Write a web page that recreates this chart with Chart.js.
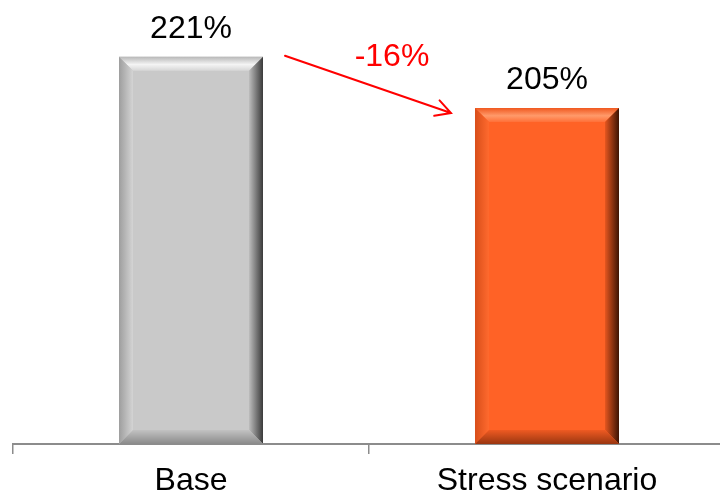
<!DOCTYPE html>
<html>
<head>
<meta charset="utf-8">
<script src="https://cdn.jsdelivr.net/npm/chart.js@4.4.1/dist/chart.umd.min.js"></script>
<style>
  html, body { margin: 0; padding: 0; background: #ffffff; }
  #wrap { width: 720px; height: 494px; position: relative; overflow: hidden; }
</style>
</head>
<body>
<div id="wrap"><canvas id="c" width="725" height="494"></canvas></div>
<script>
// Ratio by scenario (%)
const categories = ['Base', 'Stress scenario'];
const ratios = [221, 205];
const barColors = ['#C9C9C9', '#FF6226'];

// Bevel shading for each bar: [top highlight, left edge, right edge, bottom edge]
const bevelShades = [
  { top: ['#b8b8b8', '#f4f4f4', '#d6d6d6'], left: ['#9e9e9e', '#d4d4d4'], right: ['#3a3a3a', '#bdbdbd'], bottom: ['#c2c2c2', '#8a8a8a'] },
  { top: ['#f0581f', '#ff9a6a', '#ff7038'], left: ['#d84e1a', '#ff6a2e'], right: ['#3d1404', '#e6561f'], bottom: ['#ee5a22', '#9a3610'] }
];

const FONT = 'Arial, "Liberation Sans", sans-serif';
const FONT_SIZE = 32;

const bevelPlugin = {
  id: 'bevel',
  afterDatasetsDraw(chart) {
    const ctx = chart.ctx;
    const meta = chart.getDatasetMeta(0);
    meta.data.forEach((bar, i) => {
      const p = bar.getProps(['x', 'y', 'base', 'width'], true);
      const L = p.x - p.width / 2, R = p.x + p.width / 2, T = p.y;
      const B = Math.min(p.base, chart.chartArea.bottom);
      const b = 14;
      const s = bevelShades[i];
      ctx.save();
      // top
      let g = ctx.createLinearGradient(0, T, 0, T + b);
      g.addColorStop(0, s.top[0]); g.addColorStop(0.55, s.top[1]); g.addColorStop(1, s.top[2]);
      ctx.fillStyle = g;
      ctx.beginPath(); ctx.moveTo(L, T); ctx.lineTo(R, T); ctx.lineTo(R - b, T + b); ctx.lineTo(L + b, T + b); ctx.closePath(); ctx.fill();
      // left
      g = ctx.createLinearGradient(L, 0, L + b, 0);
      g.addColorStop(0, s.left[0]); g.addColorStop(1, s.left[1]);
      ctx.fillStyle = g;
      ctx.beginPath(); ctx.moveTo(L, T); ctx.lineTo(L + b, T + b); ctx.lineTo(L + b, B - b); ctx.lineTo(L, B); ctx.closePath(); ctx.fill();
      // right
      g = ctx.createLinearGradient(R, 0, R - b, 0);
      g.addColorStop(0, s.right[0]); g.addColorStop(1, s.right[1]);
      ctx.fillStyle = g;
      ctx.beginPath(); ctx.moveTo(R, T); ctx.lineTo(R - b, T + b); ctx.lineTo(R - b, B - b); ctx.lineTo(R, B); ctx.closePath(); ctx.fill();
      // bottom
      g = ctx.createLinearGradient(0, B - b, 0, B);
      g.addColorStop(0, s.bottom[0]); g.addColorStop(1, s.bottom[1]);
      ctx.fillStyle = g;
      ctx.beginPath(); ctx.moveTo(L, B); ctx.lineTo(R, B); ctx.lineTo(R - b, B - b); ctx.lineTo(L + b, B - b); ctx.closePath(); ctx.fill();
      ctx.restore();

      // value label above the bar
      ctx.save();
      ctx.fillStyle = '#000000';
      ctx.font = FONT_SIZE + 'px ' + FONT;
      ctx.textAlign = 'center';
      ctx.textBaseline = 'middle';
      ctx.fillText(ratios[i] + '%', p.x, T - 28);
      ctx.restore();
    });
  }
};

const arrowPlugin = {
  id: 'changeArrow',
  afterDatasetsDraw(chart) {
    const ctx = chart.ctx;
    const meta = chart.getDatasetMeta(0);
    const a = meta.data[0].getProps(['x', 'y', 'width'], true);
    const c = meta.data[1].getProps(['x', 'y', 'width'], true);
    const x1 = a.x + a.width / 2 + 22, y1 = a.y - 1;
    const x2 = c.x - c.width / 2 - 24, y2 = c.y + 5;
    const ang = Math.atan2(y2 - y1, x2 - x1);
    const head = 17, spread = 0.5;
    ctx.save();
    ctx.strokeStyle = '#FF0000';
    ctx.lineWidth = 2;
    ctx.lineCap = 'round';
    ctx.beginPath();
    ctx.moveTo(x1, y1); ctx.lineTo(x2, y2);
    ctx.moveTo(x2 - head * Math.cos(ang - spread), y2 - head * Math.sin(ang - spread));
    ctx.lineTo(x2, y2);
    ctx.lineTo(x2 - head * Math.cos(ang + spread), y2 - head * Math.sin(ang + spread));
    ctx.stroke();
    const change = ratios[1] - ratios[0];
    ctx.fillStyle = '#FF0000';
    ctx.font = FONT_SIZE + 'px ' + FONT;
    ctx.textAlign = 'center';
    ctx.textBaseline = 'middle';
    ctx.fillText((change > 0 ? '+' : '') + change + '%', (x1 + x2) / 2 + 24, (y1 + y2) / 2 - 27);
    ctx.restore();
  }
};

new Chart(document.getElementById('c'), {
  type: 'bar',
  data: {
    labels: categories,
    datasets: [{
      data: ratios,
      backgroundColor: barColors,
      borderWidth: 0,
      barPercentage: 0.4045,
      categoryPercentage: 1
    }]
  },
  options: {
    responsive: false,
    animation: false,
    layout: { padding: { left: 13, right: 0, top: 28, bottom: -14 } },
    plugins: { legend: { display: false }, tooltip: { enabled: false } },
    scales: {
      y: { display: false, min: 100, max: 230 },
      x: {
        border: { display: true, color: '#8c8c8c', width: 2 },
        grid: { offset: true, drawOnChartArea: false, drawTicks: true, tickLength: 10, color: '#8c8c8c', lineWidth: 1.5 },
        ticks: { color: '#000000', font: { size: FONT_SIZE, family: FONT, lineHeight: 1.0 }, padding: 11, maxRotation: 0 }
      }
    }
  },
  plugins: [bevelPlugin, arrowPlugin]
});
</script>
</body>
</html>
